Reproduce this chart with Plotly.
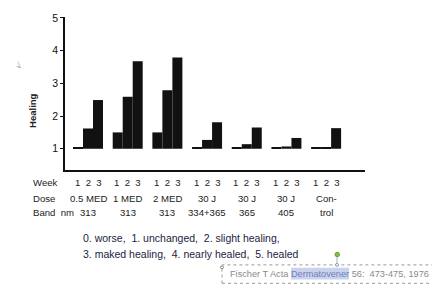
import plotly.graph_objects as go

groups = ["G1", "G2", "G3", "G4", "G5", "G6", "G7"]
week1 = [1.03, 1.50, 1.50, 1.03, 1.03, 1.03, 1.03]
week2 = [1.62, 2.59, 2.79, 1.27, 1.14, 1.07, 1.05]
week3 = [2.49, 3.68, 3.79, 1.81, 1.65, 1.33, 1.63]
week_labels = ["1\u00a0\u00a02\u00a0\u00a03"] * 7
dose_labels = ["0.5 MED", "1 MED", "2 MED", "30 J", "30 J", "30 J", "Con-"]
band_labels = ["313", "313", "313", "334+365", "365", "405", "trol"]
ytick_vals = [1, 2, 3, 4, 5]
legend_line1 = "0. worse,\u00a0 1. unchanged,\u00a0 2. slight healing,"
legend_line2 = "3. maked healing,\u00a0 4. nearly healed,\u00a0 5. healed"
citation_pre = "Fischer T Acta "
citation_hl = "Dermatovener"
citation_post = " 56:\u00a0 473-475, 1976"

W, H = 432, 290
L, R, T, B = 65, 365, 12, 170


def px(x):
    return (x - L) / (R - L)


def py(y):
    return (B - y) / (B - T)


fig = go.Figure()
for vals in (week1, week2, week3):
    fig.add_trace(go.Bar(
        x=groups, y=[v - 1 for v in vals], base=1,
        marker=dict(color="#111111", line=dict(width=0)),
        showlegend=False, hoverinfo="skip"))

font_tbl = dict(family="Liberation Sans, Arial, sans-serif", size=9.6, color="#222222")
font_leg = dict(family="Liberation Sans, Arial, sans-serif", size=10.5, color="#1c2340")

ann = []
ann.append(dict(text="<b>Healing</b>", x=px(33), y=py(109), xref="paper", yref="paper",
                xanchor="center", yanchor="middle",
                textangle=-90, showarrow=False, font=dict(family="Liberation Sans, Arial", size=9.5, color="#222")))
ann.append(dict(text="√", x=px(18), y=py(62), xref="paper", yref="paper", textangle=-40,
                xanchor="center", yanchor="middle",
                showarrow=False, font=dict(size=8, color="#888")))
for label, yy in (("Week", 183), ("Dose", 199), ("Band\u00a0 nm", 214)):
    ann.append(dict(text=label, x=px(31), y=py(yy), xref="paper", yref="paper",
                    xanchor="left", yanchor="middle", showarrow=False, font=font_tbl))
for g, w, d, b in zip(groups, week_labels, dose_labels, band_labels):
    for txt, yy in ((w, 183), (d, 199), (b, 214)):
        ann.append(dict(text=txt, x=g, y=py(yy), xref="x", yref="paper",
                        xanchor="center", yanchor="middle", showarrow=False, font=font_tbl))
ann.append(dict(text=legend_line1, x=px(81), y=py(240), xref="paper", yref="paper",
                xanchor="left", yanchor="middle", showarrow=False, font=font_leg))
ann.append(dict(text=legend_line2, x=px(81), y=py(257), xref="paper", yref="paper",
                xanchor="left", yanchor="middle", showarrow=False, font=font_leg))
ann.append(dict(text=citation_pre + "<span style='color:#6f7fb8'>" + citation_hl + "</span>" + citation_post,
                x=px(228), y=py(277), xref="paper", yref="paper", xanchor="left", yanchor="middle",
                showarrow=False, font=dict(family="Liberation Sans, Arial", size=9.2, color="#8a8a8a")))

shapes = []
shapes.append(dict(type="rect", xref="paper", yref="paper", x0=px(291), x1=px(349), y0=py(283), y1=py(271),
                   fillcolor="#c9d3ee", line=dict(width=0), layer="below"))
shapes.append(dict(type="rect", xref="paper", yref="paper", x0=px(222), x1=px(445), y0=py(287), y1=py(268),
                   line=dict(color="#9a9a9a", width=1, dash="dot")))
shapes.append(dict(type="line", xref="paper", yref="paper", x0=px(337), x1=px(337), y0=py(258), y1=py(268),
                   line=dict(color="#aab0c8", width=1)))
shapes.append(dict(type="circle", xref="paper", yref="paper", x0=px(335), x1=px(339.5), y0=py(259.5), y1=py(255),
                   fillcolor="#7cc241", line=dict(color="#5fa030", width=1)))
shapes.append(dict(type="circle", xref="paper", yref="paper", x0=px(335.5), x1=px(338.5), y0=py(269.5), y1=py(266.5),
                   fillcolor="white", line=dict(color="#8a9ab8", width=1)))
shapes.append(dict(type="circle", xref="paper", yref="paper", x0=px(220.5), x1=px(223.5), y0=py(272), y1=py(269),
                   fillcolor="white", line=dict(color="#8a8a8a", width=1)))

fig.update_layout(
    width=W, height=H,
    margin=dict(l=L, r=W - R, t=T, b=H - B, pad=0),
    paper_bgcolor="white", plot_bgcolor="white",
    barmode="group", bargap=0.244, bargroupgap=0,
    annotations=ann, shapes=shapes,
    xaxis=dict(range=[-0.58, 6.98], showline=True, linecolor="#111", linewidth=1.5,
               showticklabels=False, ticks="", showgrid=False, zeroline=False, fixedrange=True),
    yaxis=dict(range=[0.35, 5.03], tickvals=ytick_vals, showline=True, linecolor="#111", linewidth=1.5,
               ticks="outside", ticklen=3, tickwidth=1, tickcolor="#111", showgrid=False, zeroline=False,
               tickfont=dict(family="Liberation Sans, Arial", size=10.5, color="#111"), fixedrange=True),
)

fig.write_html("out.html", config={"displayModeBar": False},
               post_script="document.body.style.margin='0';document.body.style.overflow='hidden';")
